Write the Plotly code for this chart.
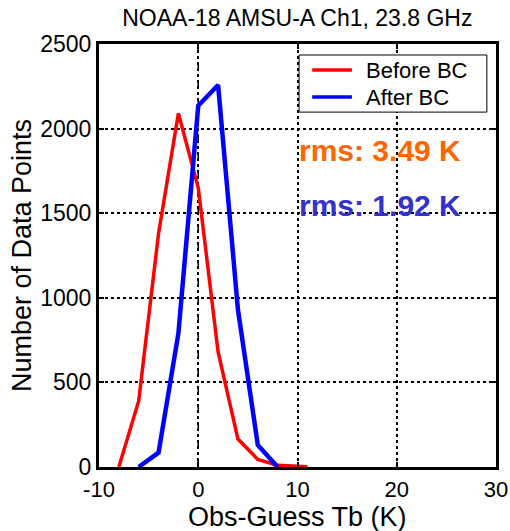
import plotly.graph_objects as go

# Data
x_before = [-8, -6, -4, -2, 0, 2, 4, 6, 8, 10, 11]
y_before = [0, 390, 1380, 2090, 1650, 680, 165, 45, 10, 4, 2]
x_after = [-6, -4, -2, 0, 2, 4, 6, 8]
y_after = [0, 85, 790, 2135, 2258, 930, 130, 0]

x_ticks = [-10, 0, 10, 20, 30]
y_ticks = [0, 500, 1000, 1500, 2000, 2500]

title_text = "NOAA-18 AMSU-A Ch1, 23.8 GHz"
series_names = ["Before BC", "After BC"]
series_colors = ["#FF0000", "#0000FF"]
rms_before = "rms: 3.49 K"
rms_after = "rms: 1.92 K"

FONT = "Liberation Sans, Arial, sans-serif"

fig = go.Figure()

# vertical dash-dot line at zero
fig.add_trace(go.Scatter(
    x=[0, 0], y=[0, 2560], mode="lines",
    line=dict(color="black", width=1.5, dash="dashdot"),
    showlegend=False, hoverinfo="skip", cliponaxis=False,
))

fig.add_trace(go.Scatter(
    x=x_before, y=y_before, mode="lines", name=series_names[0],
    line=dict(color=series_colors[0], width=3.5), showlegend=False,
))
fig.add_trace(go.Scatter(
    x=x_after, y=y_after, mode="lines", name=series_names[1],
    line=dict(color=series_colors[1], width=4.5), showlegend=False,
))

# rms annotations
fig.add_annotation(x=9.9, y=1873, xref="x", yref="y", text=f"<b>{rms_before}</b>",
                   showarrow=False, xanchor="left", yanchor="middle",
                   font=dict(family=FONT, size=30, color="#FF6600"))
fig.add_annotation(x=9.9, y=1543, xref="x", yref="y", text=f"<b>{rms_after}</b>",
                   showarrow=False, xanchor="left", yanchor="middle",
                   font=dict(family=FONT, size=30, color="#3333CC"))

# legend (box, line samples, labels) in paper coordinates
fig.add_shape(type="rect", xref="paper", yref="paper", x0=0.504, x1=0.977, y0=0.839, y1=0.974,
              line=dict(color="black", width=1), fillcolor="white", layer="above")
leg_y = [0.9385, 0.8747]
for name, col, yy in zip(series_names, series_colors, leg_y):
    fig.add_shape(type="line", xref="paper", yref="paper", x0=0.537, x1=0.637, y0=yy, y1=yy,
                  line=dict(color=col, width=3.5), layer="above")
    fig.add_annotation(x=0.668, y=yy, xref="paper", yref="paper", text=name, showarrow=False,
                       xanchor="left", yanchor="middle",
                       font=dict(family=FONT, size=22, color="black"))

# x-axis title placed below tick labels
fig.add_annotation(x=0.5, y=-0.118, xref="paper", yref="paper", text="Obs-Guess Tb (K)",
                   showarrow=False, xanchor="center", yanchor="middle",
                   font=dict(family=FONT, size=27, color="black"))

axis_common = dict(
    showline=True, linecolor="black", linewidth=3, mirror="ticks",
    ticks="inside", ticklen=5, tickwidth=2, tickcolor="black",
    showgrid=True, gridcolor="black", griddash="dot", gridwidth=1.5,
    zeroline=False, automargin=False,
)

fig.update_layout(
    width=510, height=531,
    margin=dict(l=99, r=14, t=44, b=64),
    paper_bgcolor="white", plot_bgcolor="white",
    title=dict(text=title_text, x=0.583, xanchor="center", y=0.967, yanchor="middle",
               font=dict(family=FONT, size=23, color="black")),
    xaxis=dict(range=[-10, 30], tickvals=x_ticks, ticktext=[str(v) for v in x_ticks],
               tickfont=dict(family=FONT, size=22, color="black"),
               ticklabelstandoff=1,
               **axis_common),
    yaxis=dict(range=[0, 2500], tickvals=y_ticks, ticktext=[str(v) for v in y_ticks],
               tickfont=dict(family=FONT, size=23, color="black"),
               title=dict(text="Number of Data Points", font=dict(family=FONT, size=27, color="black"),
                          standoff=1),
               **axis_common),
    showlegend=False,
)

fig.write_html("out.html")
